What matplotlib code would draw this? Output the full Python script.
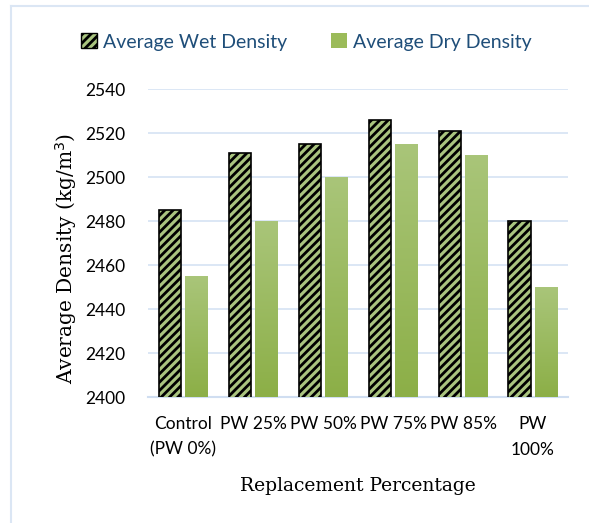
import numpy as np
import matplotlib
matplotlib.use('Agg')
import matplotlib.pyplot as plt
from matplotlib.lines import Line2D
from matplotlib.patches import Patch
from matplotlib.colors import LinearSegmentedColormap

# Datos de la grafica
categorias = ['Control\n(PW 0%)', 'PW 25%', 'PW 50%', 'PW 75%', 'PW 85%', 'PW\n100%']
densidad_humeda = [2485, 2511, 2515, 2526, 2521, 2480]
densidad_seca = [2455, 2480, 2500, 2515, 2510, 2450]
ticks_y = [2400, 2420, 2440, 2460, 2480, 2500, 2520, 2540]

plt.rcParams['hatch.linewidth'] = 2.0
fuente_num = 'Lato'
fuente_serif = 'DejaVu Serif'

fig = plt.figure(figsize=(5.89, 5.23), dpi=100)
ax = fig.add_axes([148 / 589, 1 - 397 / 523, 420 / 589, 308 / 523])

x = np.arange(len(categorias))
ancho = 0.32
desp = 0.19

# Barras humedas con rayado
ax.bar(x - desp, densidad_humeda, ancho, color='#a9c47f',
       edgecolor='black', hatch='////', linewidth=1.2, zorder=3)

# Barras secas con degradado
cmap = LinearSegmentedColormap.from_list('verde', ['#8caf47', '#a9c579'])
barras = ax.bar(x + desp, densidad_seca, ancho, color='none', linewidth=0, zorder=3)
for b in barras:
    x0 = b.get_x()
    x1 = x0 + b.get_width()
    im = ax.imshow(np.linspace(0, 1, 100).reshape(-1, 1), cmap=cmap, aspect='auto',
                   extent=[x0, x1, 2400, b.get_height()], origin='lower', zorder=3)
    im.set_clip_path(b)

ax.set_xlim(-0.5, len(categorias) - 0.5)
ax.set_ylim(2400, 2540)
ax.set_yticks(ticks_y)
ax.set_yticklabels([str(t) for t in ticks_y], fontsize=12.5, family=fuente_num)
ax.set_xticks(x)
ax.set_xticklabels(categorias, fontsize=12.5, family=fuente_num, linespacing=1.7)
ax.tick_params(axis='y', length=0, pad=16)
ax.tick_params(axis='x', length=0, pad=14)

ax.grid(axis='y', color='#d5e3f4', linewidth=1.2, zorder=0)
ax.set_axisbelow(True)
for s in ['top', 'right', 'left']:
    ax.spines[s].set_visible(False)
ax.spines['bottom'].set_color('#d0def1')
ax.spines['bottom'].set_linewidth(1.5)

ax.set_xlabel('Replacement Percentage', fontsize=13.5, family=fuente_serif, labelpad=14)
ax.set_ylabel('Average Density (kg/m$^3$)', fontsize=14.5, family=fuente_serif)
ax.yaxis.set_label_coords(-0.165, 0.45)

# Leyenda
elementos = [Patch(facecolor='#a9c47f', edgecolor='black', hatch='////', label='Average Wet Density'),
             Patch(facecolor='#9bbb59', edgecolor='none', label='Average Dry Density')]
leg = fig.legend(handles=elementos, loc='center', bbox_to_anchor=(0.52, 1 - 42 / 523), ncol=2,
                 frameon=False, prop={'family': fuente_num, 'size': 14}, handlelength=0.8,
                 handleheight=0.8, handletextpad=0.3, columnspacing=2.3)
for t in leg.get_texts():
    t.set_color('#1f4e79')

# Borde del marco
fig.add_artist(Line2D([11 / 589, 11 / 589], [0, 1 - 6 / 523], transform=fig.transFigure,
                      color='#dbe6f4', linewidth=1.5))
fig.add_artist(Line2D([11 / 589, 1], [1 - 6 / 523, 1 - 6 / 523], transform=fig.transFigure,
                      color='#dbe6f4', linewidth=1.5))

fig.savefig('out.png', dpi=100)
